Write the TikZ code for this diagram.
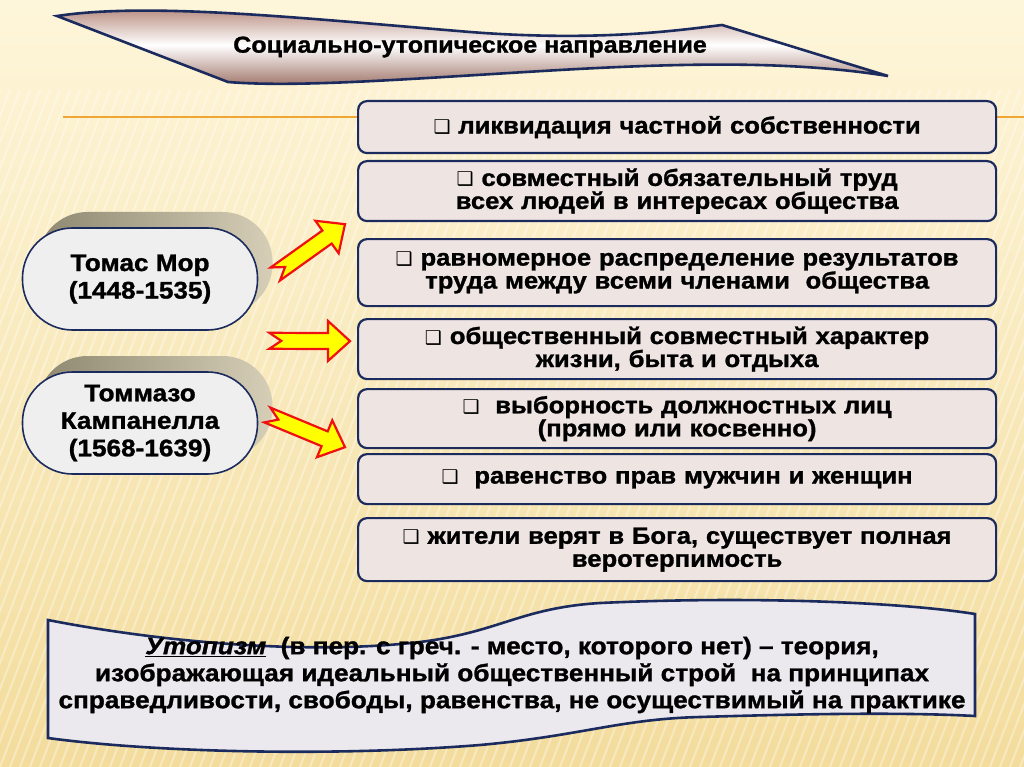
\documentclass[tikz,border=0pt]{standalone}
\usepackage{fontspec}
\setmainfont{Liberation Sans}
\newfontfamily\heavyfont{Liberation Sans}[BoldFeatures={FakeStretch=1.09,FakeBold=1.2},BoldItalicFeatures={FakeStretch=1.09,FakeBold=1.2}]
\newfontfamily\symfont{DejaVu Sans}
\usetikzlibrary{positioning, calc, shadows}

\definecolor{bgtop}{HTML}{FEF6DA}
\definecolor{bgbot}{HTML}{F3DC9C}
\definecolor{navy}{HTML}{1C2B5E}
\definecolor{boxfill}{HTML}{EEE5E3}
\definecolor{rose}{HTML}{AC7A6C}
\definecolor{pillfill}{HTML}{EFEFEF}
\definecolor{extrudeA}{HTML}{8E8870}
\definecolor{extrudeB}{HTML}{D6CEB6}
\definecolor{scrollfill}{HTML}{ECE9EE}
\definecolor{rulecol}{HTML}{EFA632}
\definecolor{arrowred}{HTML}{F01010}
\definecolor{arrowyellow}{HTML}{FFFF00}

% fat notched arrow from #1 to #2
\newcommand\fatarrow[2]{%
  \draw[fat] let \p1=($(#2)-(#1)$), \n1={atan2(\y1,\x1)}, \n2={veclen(\x1,\y1)} in
    ($(#1)+({\n1+90}:8pt)$)
    -- ($(#1)+({\n1}:{\n2-22pt})+({\n1+90}:8pt)$)
    -- ($(#1)+({\n1}:{\n2-22pt})+({\n1+90}:20pt)$)
    -- (#2)
    -- ($(#1)+({\n1}:{\n2-22pt})+({\n1-90}:20pt)$)
    -- ($(#1)+({\n1}:{\n2-22pt})+({\n1-90}:8pt)$)
    -- ($(#1)+({\n1-90}:8pt)$)
    -- ($(#1)+({\n1}:12pt)$)
    -- cycle;}

\newcommand\bul{{\symfont\fontsize{19}{19}\selectfont ❑}}

\begin{document}
\begin{tikzpicture}[x=1pt, y=-1pt,
    item/.style={draw=navy, line width=2.2pt, rounded corners=9pt, fill=boxfill,
        anchor=north west, minimum width=638pt, text width=630pt, align=center,
        inner sep=0pt, font=\heavyfont\bfseries\fontsize{23.5}{23}\selectfont},
    person/.style={draw=navy, line width=1.6pt, rounded corners=50pt, fill=pillfill,
        minimum width=235pt, minimum height=102pt, align=center,
        font=\heavyfont\bfseries\fontsize{24}{27.5}\selectfont,
        general shadow={shadow xshift=15pt, shadow yshift=16pt,
            left color=extrudeA, right color=extrudeB}},
    fat/.style={draw=arrowred, line width=2.2pt, fill=arrowyellow, line join=miter},
    stripe/.style={white, opacity=0.35, line width=2pt}
]
    % === Background ===
    \useasboundingbox (0,0) rectangle (1024,767);
    \shade[top color=bgtop, bottom color=bgbot] (0,0) rectangle (1024,767);
    \begin{scope}
        \clip (0,90) rectangle (1024,767);
        \foreach \i in {-400,-390,...,1024}
            \draw[stripe] (\i,767) -- ++(260,-677);
    \end{scope}
    \draw[rulecol, line width=1.6pt] (63,117) -- (1024,117);

    % === Title banner ===
    \shade[draw=navy, line width=2.6pt, top color=rose, bottom color=rose!90!black, middle color=white]
        (57,16) .. controls (150,2) and (300,18) .. (470,32)
        .. controls (600,42) and (680,30) .. (722,25) -- (888,76)
        .. controls (800,62) and (700,62) .. (560,70)
        .. controls (420,78) and (300,88) .. (228,82) -- cycle;
    \node[font=\heavyfont\bfseries\fontsize{23}{24}\selectfont] (title) at (470,47)
        {Социально-утопическое направление};

    % === Features ===
    \node[item, minimum height=52pt] (b1) at (357,100) {\bul\ ликвидация частной собственности};
    \node[item, minimum height=60pt] (b2) at (357,160) {\bul\ совместный обязательный труд\\всех людей в интересах общества};
    \node[item, minimum height=67pt] (b3) at (357,238) {\bul\ равномерное распределение результатов\\труда между всеми членами\ \ общества};
    \node[item, minimum height=60pt] (b4) at (357,318) {\bul\ общественный совместный характер\\жизни, быта и отдыха};
    \node[item, minimum height=59pt] (b5) at (357,388) {\bul\ \ выборность должностных лиц\\(прямо или косвенно)};
    \node[item, minimum height=50pt] (b6) at (357,453) {\bul\ \ равенство прав мужчин и женщин};
    \node[item, minimum height=63pt] (b7) at (357,517) {\bul\ жители верят в Бога, существует полная\\веротерпимость};

    % === Persons ===
    \node[person] (mor) at (140,279) {Томас Мор\\(1448-1535)};
    \node[person] (camp) at (140,423) {Томмазо\\Кампанелла\\(1568-1639)};

    % === Arrows ===
    \coordinate (a1s) at ($(mor.east)+(17,-5)$);
    \coordinate (a1e) at ($(b2.south west)+(-12,2)$);
    \coordinate (a2s) at ($(mor.south east)+(11,10)$);
    \coordinate (a2e) at ($(b4.west)+(-7,-8)$);
    \coordinate (a3s) at ($(camp.east)+(9,-8)$);
    \coordinate (a3e) at ($(b5.south west)+(-12,-2)$);
    \fatarrow{a1s}{a1e}
    \fatarrow{a2s}{a2e}
    \fatarrow{a3s}{a3e}

    % === Definition scroll ===
    \draw[navy, line width=2.6pt, fill=scrollfill]
        (48,620) .. controls (150,640) and (300,656) .. (420,642)
        .. controls (500,632) and (520,608) .. (600,603)
        .. controls (750,596) and (900,602) .. (975,614) -- (975,716)
        .. controls (900,712) and (800,714) .. (700,717)
        .. controls (620,719) and (580,736) .. (480,745)
        .. controls (330,757) and (150,752) .. (48,738) -- cycle;
    \node[align=center, font=\heavyfont\bfseries\fontsize{24}{27}\selectfont] (def) at (512,675)
        {\underline{\itshape Утопизм}\ \ (в пер. с греч. - место, которого нет) – теория,\\
         изображающая идеальный общественный строй\ \ на принципах\\
         справедливости, свободы, равенства, не осуществимый на практике};
\end{tikzpicture}
\end{document}
